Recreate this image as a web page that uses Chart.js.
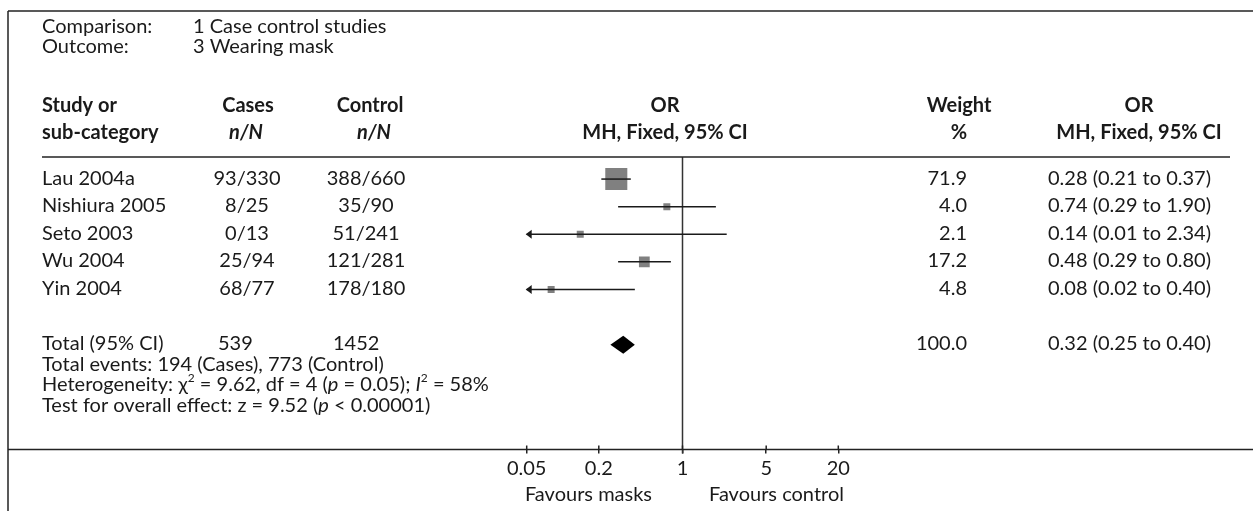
<!DOCTYPE html>
<html>
<head>
<meta charset="utf-8">
<title>Wearing mask - case control studies</title>
<script src="https://cdn.jsdelivr.net/npm/chart.js@4.4.1/dist/chart.umd.min.js"></script>
<style>
  html, body { margin: 0; padding: 0; background: #fff; }
  #wrap { width: 1253px; height: 511px; }
</style>
</head>
<body>
<div id="wrap"><canvas id="forest" width="1253" height="511"></canvas></div>
<script>
// study rows
const studies = ["Lau 2004a", "Nishiura 2005", "Seto 2003", "Wu 2004", "Yin 2004"];
const casesN = ["93/330", "8/25", "0/13", "25/94", "68/77"];
const controlN = ["388/660", "35/90", "51/241", "121/281", "178/180"];
const weights = [71.9, 4.0, 2.1, 17.2, 4.8];
const oddsRatio = [0.28, 0.74, 0.14, 0.48, 0.08];
const ciLow = [0.21, 0.29, 0.01, 0.29, 0.02];
const ciHigh = [0.37, 1.90, 2.34, 0.80, 0.40];

// pooled estimate
const totalCounts = ["539", "1452"];
const totalWeight = 100.0;
const totalOR = [0.32, 0.25, 0.40]; // estimate, lower, upper
const totalRow = 6;

const tickValues = [0.05, 0.2, 1, 5, 20];

const ink = "#1a1a1a";
const FAMILY = "Lato, 'Open Sans', sans-serif";
const f = (size, weight = "normal", style = "normal") => `${style} ${weight} ${size}px ${FAMILY}`;
const REG = f(20), BOLD = f(20, "bold"), ITAL = f(20, "normal", "italic"), BI = f(20, "bold", "italic");

const ciText = (or, lo, hi) => `${or.toFixed(2)} (${lo.toFixed(2)} to ${hi.toFixed(2)})`;
// square side grows with sqrt(weight), with a minimum size
const squareRadius = w => Math.max(7, 2.6 * Math.sqrt(w)) / Math.SQRT2;

function put(ctx, str, x, y, align, font) {
  ctx.font = font || REG;
  ctx.textAlign = align || "left";
  ctx.textBaseline = "middle";
  ctx.fillText(str, x, y);
}

// several differently styled pieces on one line
function runs(ctx, parts, x, y) {
  ctx.textAlign = "left";
  ctx.textBaseline = "middle";
  for (const [str, font, dy] of parts) {
    ctx.font = font;
    ctx.fillText(str, x, y + (dy || 0));
    x += ctx.measureText(str).width;
  }
}

function hline(ctx, x1, x2, y) {
  ctx.beginPath(); ctx.moveTo(x1, y); ctx.lineTo(x2, y); ctx.stroke();
}

const forestPlugin = {
  id: "forest",
  beforeDatasetsDraw(chart) {
    const { ctx, chartArea } = chart;
    const x1 = chart.scales.x.getPixelForValue(1);
    ctx.save();
    ctx.strokeStyle = "#333";
    ctx.lineWidth = 1.5;
    ctx.beginPath();
    ctx.moveTo(x1, chartArea.top);
    ctx.lineTo(x1, chartArea.bottom + 4);
    ctx.stroke();
    ctx.restore();
  },
  afterDatasetsDraw(chart) {
    const { ctx } = chart;
    const xs = chart.scales.x, ys = chart.scales.y;
    ctx.save();
    ctx.strokeStyle = ink;
    ctx.fillStyle = ink;
    ctx.lineWidth = 1.5;
    studies.forEach((_, i) => {
      const y = ys.getPixelForValue(i);
      const a = xs.getPixelForValue(Math.max(ciLow[i], xs.min));
      const b = xs.getPixelForValue(Math.min(ciHigh[i], xs.max));
      hline(ctx, a, b, y);
      // interval runs off the left edge: arrow head
      if (ciLow[i] < xs.min) {
        ctx.beginPath();
        ctx.moveTo(a - 1, y);
        ctx.lineTo(a + 5, y - 4.5);
        ctx.lineTo(a + 5, y + 4.5);
        ctx.closePath();
        ctx.fill();
      }
    });
    // pooled diamond
    const yt = ys.getPixelForValue(totalRow);
    ctx.fillStyle = "#000";
    ctx.beginPath();
    ctx.moveTo(xs.getPixelForValue(totalOR[1]), yt);
    ctx.lineTo(xs.getPixelForValue(totalOR[0]), yt - 9);
    ctx.lineTo(xs.getPixelForValue(totalOR[2]), yt);
    ctx.lineTo(xs.getPixelForValue(totalOR[0]), yt + 9);
    ctx.closePath();
    ctx.fill();
    ctx.restore();
  },
  afterDraw(chart) {
    const { ctx, chartArea } = chart;
    const xs = chart.scales.x, ys = chart.scales.y;
    ctx.save();
    ctx.strokeStyle = "#222";
    ctx.lineWidth = 1.5;
    // frame, header rule, axis line
    hline(ctx, 8, 1253, 11);
    ctx.beginPath(); ctx.moveTo(8, 11); ctx.lineTo(8, 511); ctx.stroke();
    hline(ctx, 42, 1230, 157);
    hline(ctx, 8, 1253, chartArea.bottom);
    // upper half of the tick marks
    xs.ticks.forEach(t => {
      const px = xs.getPixelForValue(t.value);
      ctx.beginPath(); ctx.moveTo(px, chartArea.bottom - 4); ctx.lineTo(px, chartArea.bottom); ctx.stroke();
    });

    ctx.fillStyle = ink;
    put(ctx, "Comparison:", 42, 27);
    put(ctx, "1 Case control studies", 193, 27);
    put(ctx, "Outcome:", 42, 47);
    put(ctx, "3 Wearing mask", 193, 47);

    // column headers
    const h1 = 106, h2 = 133;
    put(ctx, "Study or", 42, h1, "left", BOLD);
    put(ctx, "sub-category", 42, h2, "left", BOLD);
    put(ctx, "Cases", 248, h1, "center", BOLD);
    put(ctx, "n/N", 246, h2, "center", BI);
    put(ctx, "Control", 370, h1, "center", BOLD);
    put(ctx, "n/N", 374, h2, "center", BI);
    put(ctx, "OR", 665, h1, "center", BOLD);
    put(ctx, "MH, Fixed, 95% CI", 665, h2, "center", BOLD);
    put(ctx, "Weight", 959, h1, "center", BOLD);
    put(ctx, "%", 959, h2, "center", BOLD);
    put(ctx, "OR", 1139, h1, "center", BOLD);
    put(ctx, "MH, Fixed, 95% CI", 1139, h2, "center", BOLD);

    // study rows
    studies.forEach((name, i) => {
      const y = ys.getPixelForValue(i) - 1;
      put(ctx, name, 42, y);
      put(ctx, casesN[i], 247, y, "center");
      put(ctx, controlN[i], 366, y, "center");
      put(ctx, weights[i].toFixed(1), 967, y, "right");
      put(ctx, ciText(oddsRatio[i], ciLow[i], ciHigh[i]), 1048, y);
    });

    // pooled row and summary statistics
    const yt = ys.getPixelForValue(totalRow) - 1;
    put(ctx, "Total (95% CI)", 42, yt);
    put(ctx, totalCounts[0], 218, yt);
    put(ctx, totalCounts[1], 333, yt);
    put(ctx, totalWeight.toFixed(1), 967, yt, "right");
    put(ctx, ciText(totalOR[0], totalOR[1], totalOR[2]), 1048, yt);

    const SUP = f(12);
    put(ctx, "Total events: 194 (Cases), 773 (Control)", 42, yt + 20.5);
    runs(ctx, [
      ["Heterogeneity: \u03c7", REG], ["2", SUP, -7], [" = 9.62, df = 4 (", REG], ["p", ITAL],
      [" = 0.05); ", REG], ["I", ITAL], ["2", SUP, -7], [" = 58%", REG]
    ], 42, yt + 41);
    runs(ctx, [
      ["Test for overall effect: z = 9.52 (", REG], ["p", ITAL], [" < 0.00001)", REG]
    ], 42, yt + 61.5);

    put(ctx, "Favours masks", 652, 495, "right");
    put(ctx, "Favours control", 709, 495, "left");
    ctx.restore();
  }
};

new Chart(document.getElementById("forest"), {
  type: "scatter",
  data: {
    datasets: [{
      data: oddsRatio.map((v, i) => ({ x: v, y: i })),
      pointStyle: "rect",
      pointRadius: weights.map(squareRadius),
      backgroundColor: "#808080",
      borderWidth: 0
    }]
  },
  options: {
    responsive: false,
    animation: false,
    events: [],
    layout: { padding: { left: 526.7, right: 414.7, top: 157, bottom: 0 } },
    plugins: { legend: { display: false }, tooltip: { enabled: false } },
    scales: {
      x: {
        type: "logarithmic",
        position: "bottom",
        min: 0.05,
        max: 20,
        afterBuildTicks: s => { s.ticks = tickValues.map(v => ({ value: v })); },
        afterFit: s => { s.height = 61.5; },
        ticks: {
          callback: v => String(v),
          font: { family: FAMILY, size: 20 },
          color: ink,
          padding: 3,
          maxRotation: 0,
          autoSkip: false
        },
        grid: { drawOnChartArea: false, drawTicks: true, tickLength: 4, color: "#222", lineWidth: 1.5 },
        border: { display: false }
      },
      y: { type: "linear", reverse: true, min: -0.8, max: 9.8, display: false }
    }
  },
  plugins: [forestPlugin]
});
</script>
</body>
</html>
